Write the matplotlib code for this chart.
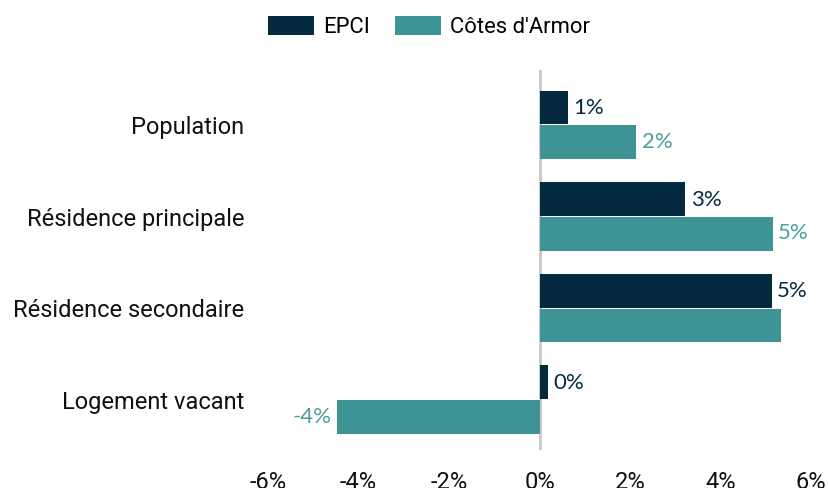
import matplotlib.pyplot as plt
import numpy as np
from matplotlib.patches import Patch
from matplotlib.ticker import FuncFormatter

# données (évolution en %)
categories = ['Population', 'Résidence principale', 'Résidence secondaire', 'Logement vacant']
series = ['EPCI', "Côtes d'Armor"]
epci = [0.62, 3.22, 5.13, 0.18]
cotes = [2.14, 5.15, 5.33, -4.47]
labels_epci = ['1%', '3%', '5%', '0%']
labels_cotes = ['2%', '5%', '', '-4%']
xticks = [-6, -4, -2, 0, 2, 4, 6]

col_epci = '#052a40'
col_cotes = '#3e9494'
col_txt_cotes = '#4a9f9c'

W, H = 829, 488
fig = plt.figure(figsize=(W / 100, H / 100), dpi=100)
ax = fig.add_axes([268 / W, (H - 450) / H, (811 - 268) / W, (450 - 70) / H])

y = np.arange(len(categories))
h = 0.37
ax.barh(y - h / 2 - 0.005, epci, height=h, color=col_epci)
ax.barh(y + h / 2 + 0.005, cotes, height=h, color=col_cotes)

# étiquettes de valeurs
for i in range(len(categories)):
    ax.annotate(labels_epci[i], xy=(max(epci[i], 0), y[i] - h / 2), xytext=(4, 0),
                textcoords='offset points', ha='left', va='center',
                fontsize=16, family='Lato', color=col_epci)
    if labels_cotes[i]:
        v = cotes[i]
        ax.annotate(labels_cotes[i], xy=(v, y[i] + h / 2), xytext=(4 if v >= 0 else -4, 0),
                    textcoords='offset points', ha='left' if v >= 0 else 'right', va='center',
                    fontsize=16, family='Lato', color=col_txt_cotes)

ax.axvline(0, color='#c8c8c8', lw=2, zorder=0)

ax.set_xlim(-6, 6)
ax.set_ylim(3.55, -0.6)
ax.set_xticks(xticks)
ax.xaxis.set_major_formatter(FuncFormatter(lambda v, p: '{:.0f}%'.format(v)))
ax.set_yticks(y)
ax.set_yticklabels(categories)
for lab in ax.get_xticklabels() + ax.get_yticklabels():
    lab.set_family('Roboto')
    lab.set_fontsize(17)
    lab.set_color('#111111')
ax.tick_params(axis='x', length=0, pad=15)
ax.tick_params(axis='y', length=0, pad=17)
for s in ax.spines.values():
    s.set_visible(False)

handles = [Patch(facecolor=col_epci, label=series[0]),
           Patch(facecolor=col_cotes, label=series[1])]
fig.legend(handles=handles, loc='center', bbox_to_anchor=(429 / W, 1 - 27 / H), ncol=2,
           frameon=False, prop={'family': 'Roboto', 'size': 15.8},
           handlelength=2.1, handleheight=1.0, handletextpad=0.45, columnspacing=1.1)

fig.savefig('out.png', dpi=100)
